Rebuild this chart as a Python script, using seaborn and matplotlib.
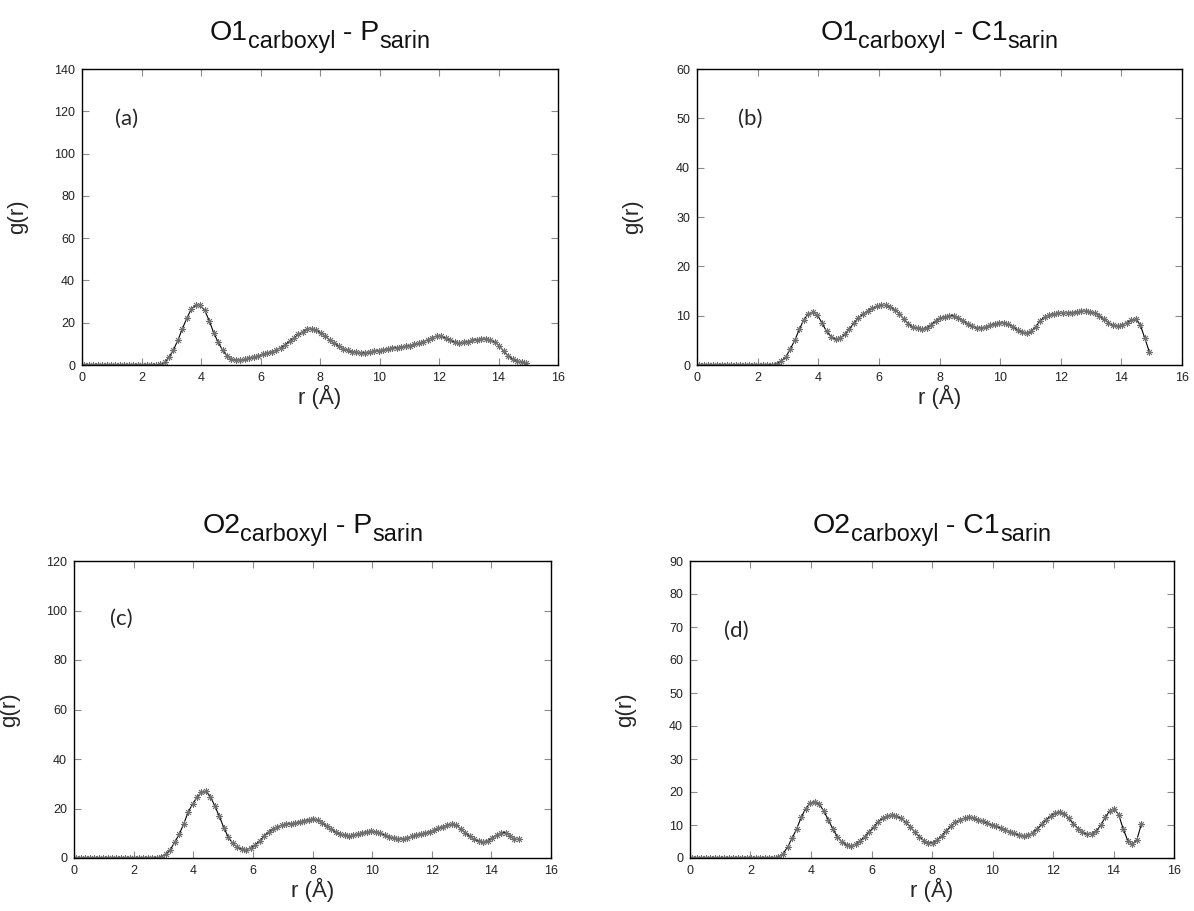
import numpy as np
import pandas as pd
import seaborn as sns
import matplotlib.pyplot as plt
from matplotlib.ticker import MultipleLocator

# Radial grid: centres of 0.15 Å bins from 0 to 15 Å
r = np.round(0.075 + 0.15 * np.arange(100), 3)

# g(r) for O1(carboxyl) - P(sarin)
g_o1_p = [
    0, 0, 0, 0, 0, 0, 0, 0, 0, 0,
    0, 0, 0, 0, 0, 0, 0.1, 0.4, 1.2, 3.6,
    7.2, 11.8, 17.2, 22.2, 26.5, 28.3, 28.2, 25.8, 21.0, 15.3,
    10.8, 7.0, 4.2, 2.8, 2.3, 2.3, 2.7, 3.2, 3.8, 4.4,
    5.0, 5.6, 6.3, 7.1, 8.2, 9.6, 11.2, 12.9, 14.5, 15.8,
    16.8, 17.1, 16.5, 15.2, 13.6, 11.9, 10.3, 8.9, 7.7, 6.9,
    6.3, 6.0, 5.9, 5.9, 6.1, 6.4, 6.8, 7.2, 7.6, 7.9,
    8.2, 8.5, 8.8, 9.2, 9.7, 10.3, 11.0, 12.0, 13.0, 13.7,
    13.6, 12.8, 11.7, 10.8, 10.5, 10.7, 11.1, 11.6, 12.0, 12.3,
    12.2, 11.8, 11.0, 9.0, 6.6, 4.2, 2.7, 1.8, 1.2, 0.9,
]

# g(r) for O1(carboxyl) - C1(sarin)
g_o1_c1 = [
    0, 0, 0, 0, 0, 0, 0, 0, 0, 0,
    0, 0, 0, 0, 0, 0, 0.05, 0.3, 0.8, 1.6,
    3.2, 5.0, 7.2, 9.2, 10.4, 10.7, 10.1, 8.5, 6.8, 5.7,
    5.2, 5.4, 6.2, 7.3, 8.5, 9.5, 10.3, 10.9, 11.5, 11.9,
    12.1, 12.1, 11.8, 11.2, 10.4, 9.3, 8.3, 7.7, 7.4, 7.3,
    7.6, 8.2, 8.9, 9.5, 9.8, 10.0, 10.0, 9.6, 9.0, 8.4,
    7.9, 7.6, 7.5, 7.7, 8.1, 8.4, 8.5, 8.5, 8.3, 7.8,
    7.1, 6.6, 6.4, 6.8, 7.8, 9.0, 9.8, 10.2, 10.4, 10.5,
    10.5, 10.5, 10.6, 10.8, 10.9, 10.9, 10.8, 10.5, 10.0, 9.3,
    8.6, 8.1, 7.9, 8.1, 8.6, 9.1, 9.3, 8.1, 5.4, 2.6,
]

# g(r) for O2(carboxyl) - P(sarin)
g_o2_p = [
    0, 0, 0, 0, 0, 0, 0, 0, 0, 0,
    0, 0, 0, 0, 0, 0, 0, 0, 0.1, 0.5,
    1.5, 3.3, 6.3, 9.5, 13.6, 18.4, 21.8, 24.5, 26.5, 27.0,
    24.8, 21.0, 16.8, 12.3, 8.4, 5.9, 4.4, 3.6, 3.4, 4.1,
    5.3, 6.9, 8.8, 10.5, 11.8, 12.7, 13.3, 13.6, 13.9, 14.2,
    14.6, 15.1, 15.5, 15.6, 15.2, 14.3, 13.0, 11.6, 10.4, 9.6,
    9.1, 8.9, 9.2, 9.7, 10.2, 10.6, 10.8, 10.6, 10.1, 9.3,
    8.6, 8.0, 7.6, 7.7, 8.2, 8.8, 9.3, 9.7, 10.1, 10.6,
    11.2, 12.0, 12.7, 13.3, 13.6, 13.2, 11.8, 10.1, 8.7, 7.6,
    6.8, 6.5, 7.0, 8.1, 9.3, 10.2, 10.3, 9.0, 7.6, 7.5,
]

# g(r) for O2(carboxyl) - C1(sarin)
g_o2_c1 = [
    0, 0, 0, 0, 0, 0, 0, 0, 0, 0,
    0, 0, 0, 0, 0, 0, 0, 0, 0, 0.3,
    1.3, 3.3, 6.0, 8.8, 12.3, 15.0, 16.6, 17.1, 16.3, 14.2,
    11.5, 8.8, 6.4, 4.8, 3.9, 3.7, 4.2, 5.2, 6.5, 7.9,
    9.4, 11.0, 12.1, 12.7, 13.0, 12.7, 12.0, 10.9, 9.5, 7.9,
    6.5, 5.3, 4.6, 4.6, 5.4, 6.8, 8.3, 9.6, 10.8, 11.6,
    12.1, 12.3, 12.0, 11.6, 11.1, 10.6, 10.1, 9.6, 9.1, 8.6,
    8.0, 7.5, 6.9, 6.7, 6.9, 7.7, 8.8, 10.2, 11.6, 12.8,
    13.7, 14.0, 13.4, 12.0, 10.4, 8.9, 7.8, 7.2, 7.2, 8.1,
    9.9, 12.3, 14.3, 15.0, 13.0, 8.7, 5.2, 4.1, 5.6, 10.4,
]

# title pieces: (main, subscript, main, subscript)
title_parts = [
    ('O1', 'carboxyl', ' - P', 'sarin'),
    ('O1', 'carboxyl', ' - C1', 'sarin'),
    ('O2', 'carboxyl', ' - P', 'sarin'),
    ('O2', 'carboxyl', ' - C1', 'sarin'),
]
panel_tags = ['(a)', '(b)', '(c)', '(d)']
y_max = [140, 60, 120, 90]
y_step = [20, 10, 20, 10]
series = [g_o1_p, g_o1_c1, g_o2_p, g_o2_c1]

sns.set_theme(style='ticks')
plt.rcParams['font.family'] = ['Liberation Sans', 'DejaVu Sans']

W, H = 1194, 911
fig = plt.figure(figsize=(W / 100, H / 100), dpi=100)
renderer = fig.canvas.get_renderer()

# axes boxes in pixels: left, right, top, bottom
boxes = [
    (82, 558, 69, 365),
    (697, 1182, 69, 365),
    (74, 551, 561, 858),
    (690, 1174, 561, 858),
]
title_base = [40, 40, 533, 533]
tag_pos = [(0.069, 0.83), (0.085, 0.83), (0.075, 0.805), (0.07, 0.765)]

MAIN_SIZE, SUB_SIZE, SUB_DROP = 20.5, 16.8, 8


def draw_title(parts, cx, base):
    """Lay out main/subscript pieces side by side, centred at cx (pixels)."""
    texts = []
    for k, s in enumerate(parts):
        sub = k % 2 == 1
        t = fig.text(0, 0, s.replace(' ', '\u00a0'),
                     fontsize=SUB_SIZE if sub else MAIN_SIZE,
                     ha='left', va='baseline', color='#111111')
        texts.append((t, sub))
    widths = [t.get_window_extent(renderer).width for t, _ in texts]
    x = cx - sum(widths) / 2
    for (t, sub), w in zip(texts, widths):
        y = base + (SUB_DROP if sub else 0)
        t.set_position((x / W, (H - y) / H))
        x += w


for i in range(4):
    L, R, T, B = boxes[i]
    ax = fig.add_axes([L / W, (H - B) / H, (R - L) / W, (B - T) / H])
    df = pd.DataFrame({'r': r, 'g': series[i]})
    sns.lineplot(data=df, x='r', y='g', ax=ax, color='black', linewidth=0.8,
                 marker=(8, 2, 0), markersize=5, markeredgecolor='#707070',
                 markeredgewidth=0.6)
    ax.set_xlim(0, 16)
    ax.set_ylim(0, y_max[i])
    ax.xaxis.set_major_locator(MultipleLocator(2))
    ax.yaxis.set_major_locator(MultipleLocator(y_step[i]))
    ax.tick_params(direction='in', top=True, right=True, length=5, width=0.8,
                   color='#8c8c8c', labelsize=9, labelcolor='#222222', pad=5)
    for sp in ax.spines.values():
        sp.set_color('black')
        sp.set_linewidth(1.0)
    ax.set_xlabel('r (Å)', fontsize=16, labelpad=1)
    ax.set_ylabel('g(r)', fontsize=16)
    ax.yaxis.set_label_coords(-54 / (R - L), 0.5)
    draw_title(title_parts[i], (L + R) / 2, title_base[i])
    ax.text(tag_pos[i][0], tag_pos[i][1], panel_tags[i], transform=ax.transAxes,
            fontsize=16, family=['Lato', 'DejaVu Sans'], ha='left', va='center')

fig.savefig('out.png', dpi=100)
